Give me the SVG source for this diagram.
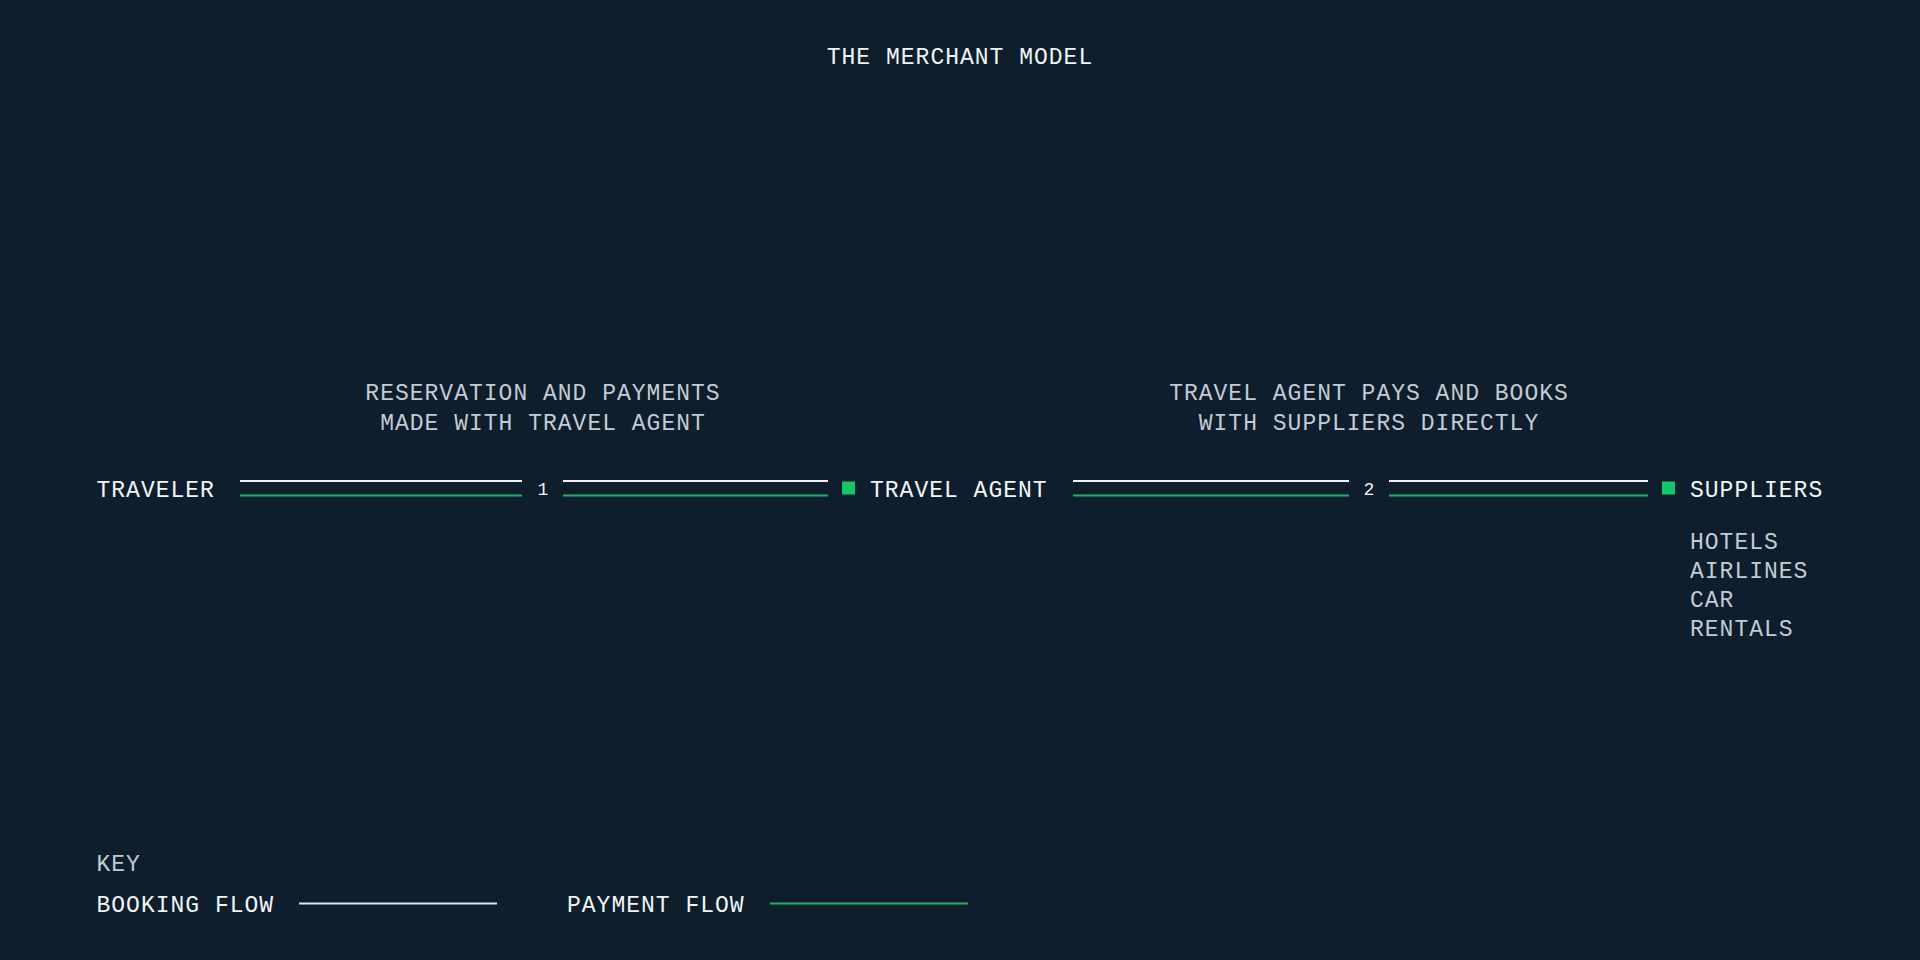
<svg xmlns="http://www.w3.org/2000/svg" width="1920" height="960" viewBox="0 0 1920 960">
<style>
  text { font-family: "Liberation Mono", "DejaVu Sans Mono", monospace; font-size: 23px; letter-spacing: 1px; }
  .main { fill: #f2f5f8; }
  .sub { fill: #c3cbd3; }
  .step { fill: #f2f5f8; font-size: 18px; letter-spacing: 0; }
  .book { stroke: #eef2f6; stroke-width: 2; fill: none; }
  .pay { stroke: #1fb36a; stroke-width: 2; fill: none; }
  .mark { fill: #13c768; }
</style>
<rect width="1920" height="960" fill="#0e1e2d"/>
<text id="title" class="main" x="960" y="64" text-anchor="middle">THE MERCHANT MODEL</text>

<g id="annotations">
  <text class="sub" x="543" y="400" text-anchor="middle">RESERVATION AND PAYMENTS</text>
  <text class="sub" x="543" y="429.5" text-anchor="middle">MADE WITH TRAVEL AGENT</text>
  <text class="sub" x="1369" y="400" text-anchor="middle">TRAVEL AGENT PAYS AND BOOKS</text>
  <text class="sub" x="1369" y="429.5" text-anchor="middle">WITH SUPPLIERS DIRECTLY</text>
</g>

<g id="connectors">
  <g id="edge-traveler-agent">
    <line class="book" x1="240" y1="481" x2="522" y2="481"/>
    <line class="pay" x1="240" y1="495.5" x2="522" y2="495.5"/>
    <line class="book" x1="563" y1="481" x2="828" y2="481"/>
    <line class="pay" x1="563" y1="495.5" x2="828" y2="495.5"/>
    <text class="step" x="543" y="495" text-anchor="middle">1</text>
  </g>
  <g id="edge-agent-suppliers">
    <line class="book" x1="1073" y1="481" x2="1349" y2="481"/>
    <line class="pay" x1="1073" y1="495.5" x2="1349" y2="495.5"/>
    <line class="book" x1="1389" y1="481" x2="1648" y2="481"/>
    <line class="pay" x1="1389" y1="495.5" x2="1648" y2="495.5"/>
    <text class="step" x="1369" y="495" text-anchor="middle">2</text>
  </g>
</g>

<g id="node-traveler">
  <text class="main" x="96.5" y="497">TRAVELER</text>
</g>
<g id="node-travel-agent">
  <rect class="mark" x="842" y="481.5" width="13" height="13"/>
  <text class="main" x="870" y="497">TRAVEL AGENT</text>
</g>
<g id="node-suppliers">
  <rect class="mark" x="1662" y="481.5" width="13" height="13"/>
  <text class="main" x="1690" y="497">SUPPLIERS</text>
  <text class="sub" x="1690" y="549">HOTELS</text>
  <text class="sub" x="1690" y="578">AIRLINES</text>
  <text class="sub" x="1690" y="607">CAR</text>
  <text class="sub" x="1690" y="636">RENTALS</text>
</g>

<g id="key">
  <text class="sub" x="96.5" y="871">KEY</text>
  <text class="main" x="96.5" y="912">BOOKING FLOW</text>
  <line class="book" x1="299" y1="903.5" x2="497" y2="903.5" style="stroke:#dde3ea"/>
  <text class="main" x="567" y="912">PAYMENT FLOW</text>
  <line class="pay" x1="770" y1="903.5" x2="968" y2="903.5"/>
</g>
</svg>
